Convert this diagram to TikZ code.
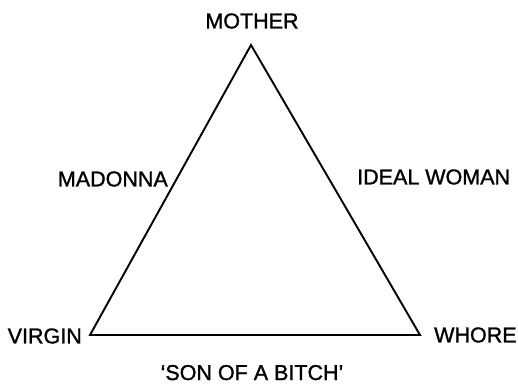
\documentclass[tikz,border=0pt]{standalone}
\usepackage{fontspec}
\setmainfont{Liberation Sans}[FakeBold=1.2]
\begin{document}
\begin{tikzpicture}[x=1pt,y=-1pt,
  lbl/.style={inner sep=0pt,font=\fontsize{21.5}{25}\selectfont},
  edge/.style={line width=1.9pt,line join=miter}]
\useasboundingbox (0,0) rectangle (518,387);
\coordinate (top) at (251,45);
\coordinate (bl) at (90,335);
\coordinate (br) at (420,335);
\draw[edge] (top) -- (bl) -- (br) -- cycle;
\node[lbl] (mother) at (252,21) {MOTHER};
\node[lbl,anchor=east] (virgin) at (82,336) {VIRGIN};
\node[lbl,anchor=west] (whore) at (434,335) {WHORE};
\node[lbl,anchor=east] (madonna) at (168,179) {MADONNA};
\node[lbl,anchor=west] (ideal) at (357,177) {IDEAL WOMAN};
\node[lbl,anchor=base] (son) at (252,380) {‘SON OF A BITCH’};
\end{tikzpicture}
\end{document}
